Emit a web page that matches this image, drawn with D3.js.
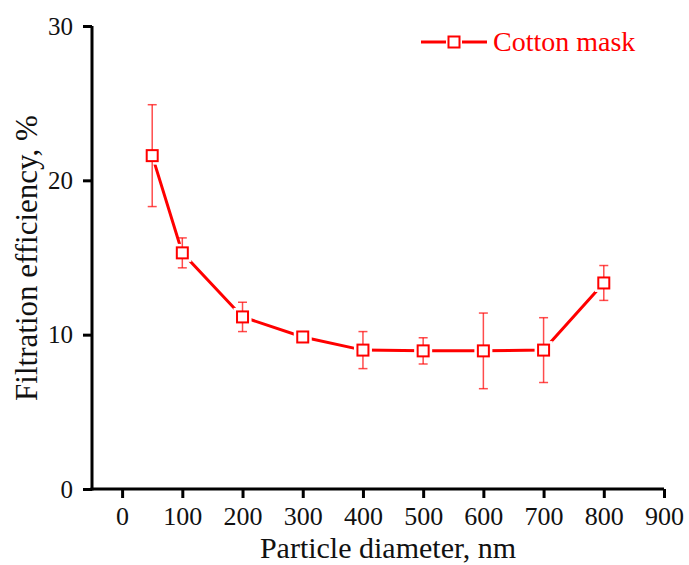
<!DOCTYPE html>
<html>
<head>
<meta charset="utf-8">
<script src="https://cdn.jsdelivr.net/npm/d3@7"></script>
<style>
  body { margin: 0; background: white; }
  svg text { font-family: "Liberation Serif", "Times New Roman", serif; }
</style>
</head>
<body>
<svg id="chart" width="689" height="565"></svg>
<script>
// data
var diameters = [50, 100, 200, 300, 400, 500, 600, 700, 800];
var efficiency = [21.6, 15.3, 11.15, 9.85, 9.0, 8.95, 8.95, 9.0, 13.35];
var errors = [3.3, 0.97, 0.95, 0.2, 1.2, 0.85, 2.45, 2.1, 1.13];
var xTicks = [0, 100, 200, 300, 400, 500, 600, 700, 800, 900];
var yTicks = [0, 10, 20, 30];
var seriesName = "Cotton mask";

var red = "#ff0000";
var svg = d3.select("#chart");

var x = d3.scaleLinear().domain([-50, 900]).range([92, 664]);
var y = d3.scaleLinear().domain([0, 30]).range([489, 26]);

// axes
var xAxis = svg.append("g").attr("transform", "translate(0," + y(0) + ")")
  .call(d3.axisBottom(x).tickValues(xTicks).tickSize(9).tickPadding(9).tickSizeOuter(0));
var yAxis = svg.append("g").attr("transform", "translate(" + x(-50) + ",0)")
  .call(d3.axisLeft(y).tickValues(yTicks).tickSize(9).tickPadding(10).tickSizeOuter(0));

[xAxis, yAxis].forEach(function(a) {
  a.attr("font-family", null).attr("font-size", null);
  a.select(".domain").attr("stroke", "black").attr("stroke-width", 3);
  a.selectAll(".tick line").attr("stroke", "black").attr("stroke-width", 3);
  a.selectAll(".tick text").attr("fill", "#111");
});
xAxis.selectAll(".tick text").style("font-size", "26px");
yAxis.selectAll(".tick text").style("font-size", "25px");
xAxis.select(".domain").attr("d", "M" + (x(-50) - 1.5) + ",0H" + x(900));
yAxis.select(".domain").attr("d", "M0," + y(30) + "V" + (y(0) + 1.5));

// axis titles
svg.append("text").attr("x", 388).attr("y", 558).attr("text-anchor", "middle")
  .style("font-size", "30px").attr("fill", "#111").text("Particle diameter, nm");
svg.append("text").attr("transform", "translate(37,258) rotate(-90)").attr("text-anchor", "middle")
  .style("font-size", "31px").attr("fill", "#111").text("Filtration efficiency, %");

var pts = diameters.map(function(d, i) { return { x: d, y: efficiency[i], e: errors[i] }; });

// line
var line = d3.line().x(function(d) { return x(d.x); }).y(function(d) { return y(d.y); });
svg.append("path").datum(pts).attr("d", line).attr("fill", "none")
  .attr("stroke", red).attr("stroke-width", 3);

// small white gap round each marker
svg.selectAll("rect.halo").data(pts).enter().append("rect").attr("class", "halo")
  .attr("x", function(d) { return x(d.x) - 9; }).attr("y", function(d) { return y(d.y) - 9; })
  .attr("width", 18).attr("height", 18).attr("fill", "white");

// error bars
var eb = svg.append("g").attr("stroke", red).attr("stroke-opacity", 0.7).attr("stroke-width", 1.5);
pts.forEach(function(p) {
  eb.append("line").attr("x1", x(p.x)).attr("x2", x(p.x)).attr("y1", y(p.y - p.e)).attr("y2", y(p.y + p.e));
  [p.y - p.e, p.y + p.e].forEach(function(v) {
    eb.append("line").attr("x1", x(p.x) - 4.5).attr("x2", x(p.x) + 4.5).attr("y1", y(v)).attr("y2", y(v));
  });
});

// markers
svg.selectAll("rect.m").data(pts).enter().append("rect").attr("class", "m")
  .attr("x", function(d) { return x(d.x) - 5.5; }).attr("y", function(d) { return y(d.y) - 5.5; })
  .attr("width", 11).attr("height", 11)
  .attr("fill", "white").attr("stroke", red).attr("stroke-width", 2);

// legend
var lg = svg.append("g");
lg.append("line").attr("x1", 421).attr("x2", 446).attr("y1", 42).attr("y2", 42)
  .attr("stroke", red).attr("stroke-width", 3);
lg.append("line").attr("x1", 462).attr("x2", 487).attr("y1", 42).attr("y2", 42)
  .attr("stroke", red).attr("stroke-width", 3);
lg.append("rect").attr("x", 448.5).attr("y", 36.5).attr("width", 11).attr("height", 11)
  .attr("fill", "white").attr("stroke", red).attr("stroke-width", 2);
lg.append("text").attr("x", 493).attr("y", 51).attr("fill", red)
  .style("font-size", "28px").text(seriesName);
</script>
</body>
</html>
